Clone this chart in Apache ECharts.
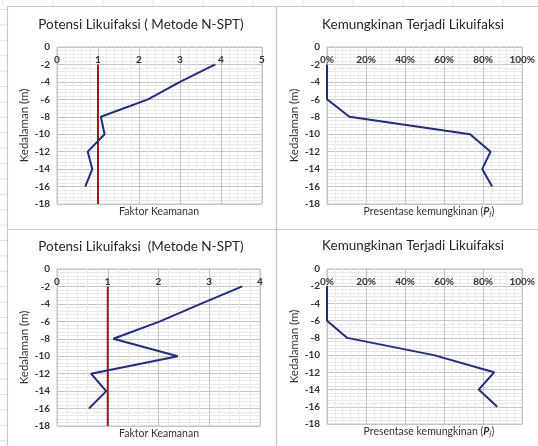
<!DOCTYPE html>
<html>
<head>
<meta charset="utf-8">
<script src="https://cdn.jsdelivr.net/npm/echarts@6/dist/echarts.min.js"></script>
<style>
  html, body { margin: 0; padding: 0; background: #ffffff; }
  #chart { width: 538px; height: 446px; }
</style>
</head>
<body>
<div id="chart"></div>
<script>
// Depth of each SPT test point (m, negative downward)
const depth = [-2, -4, -6, -8, -10, -12, -14, -16];

// Upper pair: safety factor and probability of liquefaction
const fsUpper = [3.86, 3.00, 2.22, 1.07, 1.16, 0.75, 0.86, 0.69];
const pfUpper = [0, 0, 0, 0.115, 0.733, 0.838, 0.795, 0.846];

// Lower pair: safety factor and probability of liquefaction
const fsLower = [3.65, 2.83, 2.03, 1.11, 2.38, 0.67, 0.97, 0.63];
const pfLower = [0, 0, 0, 0.104, 0.547, 0.856, 0.777, 0.872];

// FS = 1 reference line
const limitFs = [1, 1];
const limitDepth = [-2, -18];

// Axis ticks
const depthTicks = { min: -18, max: 0, step: 2 };
const fsUpperTicks = { min: 0, max: 5, step: 1 };
const fsLowerTicks = { min: 0, max: 4, step: 1 };
const pfTicks = { min: 0, max: 1, step: 0.2 };

const titles = [
  'Potensi Likuifaksi ( Metode N-SPT)',
  'Kemungkinan Terjadi Likuifaksi',
  'Potensi Likuifaksi  (Metode N-SPT)',
  'Kemungkinan Terjadi Likuifaksi'
];
const fsAxisTitle = 'Faktor Keamanan';
const yAxisTitle = 'Kedalaman (m)';

const FONT = 'Lato, "Open Sans", sans-serif';
const NAVY = '#1f2d7b';
const RED = '#a0161b';
const TEXT = '#333333';
const MAJOR = '#c3c3c3';
const MINOR = '#e8e8e8';

const pairs = (xs, ys) => xs.map((v, i) => [v, ys[i]]);

const grids = [
  { left: 57, top: 47, width: 205, height: 157 },
  { left: 327, top: 47, width: 197, height: 157 },
  { left: 57, top: 269, width: 203, height: 157 },
  { left: 327, top: 269, width: 197, height: 155 }
];

function xAxisFor(idx, t, pct) {
  return {
    gridIndex: idx,
    type: 'value',
    position: 'top',
    min: t.min, max: t.max, interval: t.step,
    axisLine: { show: false },
    axisTick: { show: false },
    minorTick: { show: false, splitNumber: 5 },
    axisLabel: {
      inside: true, margin: 8, fontFamily: FONT, fontSize: 10, fontWeight: 'bold',
      color: TEXT, showMinLabel: true, showMaxLabel: true,
      formatter: pct ? (v => Math.round(v * 100) + '%') : (v => String(v))
    },
    splitLine: { show: true, lineStyle: { color: MAJOR, width: 1 } },
    minorSplitLine: { show: true, lineStyle: { color: MINOR, width: 1 } }
  };
}

function yAxisFor(idx) {
  return {
    gridIndex: idx,
    type: 'value',
    min: depthTicks.min, max: depthTicks.max, interval: depthTicks.step,
    name: yAxisTitle,
    nameLocation: 'middle',
    nameGap: 25,
    nameRotate: 90,
    nameTextStyle: { fontFamily: FONT, fontSize: 11.5, color: TEXT },
    axisLine: { show: false },
    axisTick: { show: false },
    minorTick: { show: false, splitNumber: 5 },
    axisLabel: { margin: 7, fontFamily: FONT, fontSize: 10, fontWeight: 'bold', color: TEXT },
    splitLine: { show: true, lineStyle: { color: MAJOR, width: 1 } },
    minorSplitLine: { show: true, lineStyle: { color: MINOR, width: 1 } }
  };
}

function lineSeries(idx, data, color) {
  return {
    type: 'line',
    xAxisIndex: idx, yAxisIndex: idx,
    data: data,
    symbol: 'none',
    lineStyle: { color: color, width: 2 },
    z: color === RED ? 3 : 4,
    silent: true
  };
}

// Spreadsheet cell lines peeking around the chart frames
const sheetLines = [];
for (let x = 3; x < 538; x += 50) {
  sheetLines.push({ type: 'line', shape: { x1: x, y1: 0, x2: x, y2: 6 }, style: { stroke: '#e2e2e2', lineWidth: 1 }, z: 0 });
}
for (let y = 9.5; y < 446; y += 15.4) {
  sheetLines.push({ type: 'line', shape: { x1: 0, y1: y, x2: 7, y2: y }, style: { stroke: '#e2e2e2', lineWidth: 1 }, z: 0 });
}

const frames = [
  { x: 7.5, y: 6.5, w: 269, h: 223 },
  { x: 276.5, y: 6.5, w: 270, h: 223 },
  { x: 7.5, y: 229.5, w: 269, h: 230 },
  { x: 276.5, y: 229.5, w: 270, h: 230 }
].map(f => ({
  type: 'rect',
  shape: { x: f.x, y: f.y, width: f.w, height: f.h },
  style: { fill: 'transparent', stroke: '#c8c8c8', lineWidth: 1.2 },
  z: 1
}));

const titleCenters = [[141, 25], [413, 25], [141, 247], [413, 246]];
const titleTexts = titles.map((t, i) => ({
  type: 'text',
  x: titleCenters[i][0], y: titleCenters[i][1],
  style: { text: t, fontFamily: FONT, fontSize: 13.5, fill: '#262626', textAlign: 'center', textVerticalAlign: 'middle' },
  z: 10
}));

const xNames = [
  { c: [159, 212], text: fsAxisTitle },
  { c: [159, 434], text: fsAxisTitle },
  { c: [429, 212], pf: true },
  { c: [429, 432], pf: true }
].map(n => ({
  type: 'text',
  x: n.c[0], y: n.c[1],
  style: n.pf ? {
    text: '{t|Presentase kemungkinan (}{p|P}{s|f}{t|)}',
    rich: {
      t: { fontFamily: FONT, fontSize: 10.5, fill: TEXT },
      p: { fontFamily: FONT, fontSize: 10.5, fontStyle: 'italic', fontWeight: 'bold', fill: TEXT },
      s: { fontFamily: FONT, fontSize: 7, fontStyle: 'italic', fill: TEXT, padding: [6, 0, 0, 0] }
    },
    textAlign: 'center', textVerticalAlign: 'middle'
  } : {
    text: n.text, fontFamily: FONT, fontSize: 10.5, fill: TEXT,
    textAlign: 'center', textVerticalAlign: 'middle'
  },
  z: 10
}));

const chart = echarts.init(document.getElementById('chart'), null, { renderer: 'canvas' });
chart.setOption({
  animation: false,
  backgroundColor: '#ffffff',
  grid: grids.map(g => Object.assign({ show: true, borderColor: MAJOR, borderWidth: 1, backgroundColor: 'transparent' }, g)),
  xAxis: [
    xAxisFor(0, fsUpperTicks, false),
    xAxisFor(1, pfTicks, true),
    xAxisFor(2, fsLowerTicks, false),
    xAxisFor(3, pfTicks, true)
  ],
  yAxis: [yAxisFor(0), yAxisFor(1), yAxisFor(2), yAxisFor(3)],
  graphic: { elements: sheetLines.concat(frames, titleTexts, xNames) },
  series: [
    lineSeries(0, pairs(limitFs, limitDepth), RED),
    lineSeries(0, pairs(fsUpper, depth), NAVY),
    lineSeries(1, pairs(pfUpper, depth), NAVY),
    lineSeries(2, pairs(limitFs, limitDepth), RED),
    lineSeries(2, pairs(fsLower, depth), NAVY),
    lineSeries(3, pairs(pfLower, depth), NAVY)
  ]
});
</script>
</body>
</html>
